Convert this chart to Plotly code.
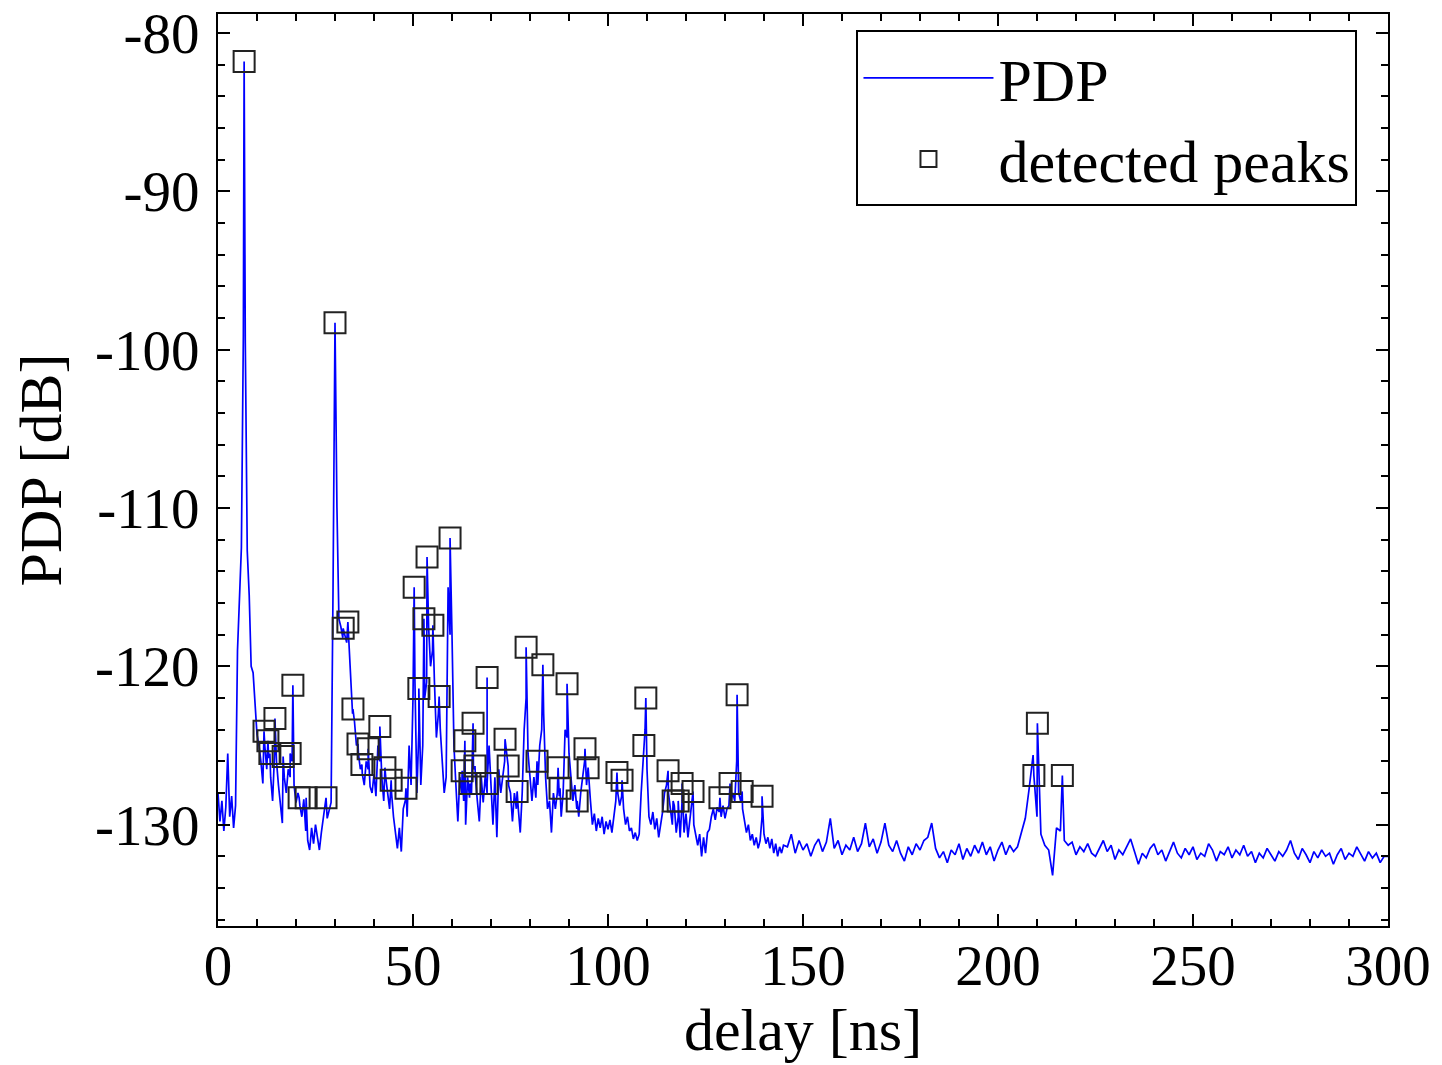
import numpy as np
import plotly.graph_objects as go

# PDP samples: 0 .. 145 ns every 0.5 ns
pdp_early_db = [
    # 0 - 9.5 ns
    -128.0, -129.8, -128.5, -130.4, -128.9, -125.5, -129.5, -128.2, -130.2, -128.8,
    -119.0, -115.0, -112.5, -99.1, -99.6, -112.7, -115.5, -120.0, -120.4, -122.5,
    # 10 - 19.5 ns
    -124.3, -125.0, -126.0, -127.4, -125.0, -126.5, -125.8, -127.0, -128.5, -125.5,
    -126.0, -127.5, -128.6, -129.9, -127.0, -128.0, -126.5, -127.0, -126.0, -127.5,
    # 20 - 29.5 ns
    -128.6, -128.0, -128.8, -129.5, -128.4, -130.4, -131.0, -131.6, -130.2, -131.2,
    -130.0, -130.8, -131.6, -130.5, -129.5, -128.8, -129.6, -129.0, -128.6, -115.0,
    # 30 - 39.5 ns
    -98.3, -110.0, -117.0, -117.5, -118.2, -118.0, -118.5, -118.3, -120.0, -123.0,
    -123.5, -125.0, -125.5, -126.5, -126.8, -127.5, -126.0, -126.5, -127.6, -128.0,
    # 40 - 49.5 ns
    -126.8, -128.2, -125.0, -126.0, -127.0, -128.5, -127.0, -128.0, -129.0, -128.0,
    -129.5, -130.5, -131.5, -130.2, -131.7, -129.0, -128.5, -129.5, -125.0, -127.5,
    # 50 - 59.5 ns
    -122.0, -121.0, -128.0, -124.0, -127.5, -125.0, -122.0, -121.0, -117.5, -120.0,
    -119.0, -121.0, -124.5, -123.0, -124.0, -126.0, -128.0, -127.0, -115.0, -118.0,
    # 60 - 69.5 ns
    -118.0, -125.0, -127.5, -129.8, -127.0, -128.0, -128.5, -130.0, -127.0, -128.3,
    -128.0, -126.5, -127.0, -128.5, -129.8, -127.0, -128.6, -127.0, -128.0, -125.0,
    # 70 - 79.5 ns
    -128.0, -130.0, -127.0, -130.8, -126.5, -128.0, -127.0, -126.0, -125.5, -127.5,
    -128.0, -129.8, -128.0, -129.0, -129.0, -130.5, -128.0, -124.0, -122.0, -125.5,
    # 80 - 89.5 ns
    -127.0, -128.5, -127.0, -128.3, -127.5, -125.0, -124.0, -123.0, -127.0, -129.0,
    -128.5, -130.5, -128.0, -129.0, -128.0, -128.2, -129.5, -128.0, -124.0, -124.5,
    # 90 - 99.5 ns
    -125.5, -127.0, -128.5, -127.5, -129.0, -129.5, -128.0, -127.0, -126.0, -127.5,
    -126.8, -128.5, -130.0, -129.3, -130.4, -129.6, -130.2, -129.5, -130.6, -129.8,
    # 100 - 109.5 ns
    -130.3, -129.7, -130.5, -129.4, -128.5, -128.0, -128.8, -128.2, -129.0, -130.0,
    -129.5, -130.4, -130.2, -130.9, -130.5, -131.0, -130.6, -128.0, -126.0, -124.0,
    # 110 - 119.5 ns
    -126.5, -129.5, -130.0, -129.2, -130.3, -129.6, -130.8, -130.0, -129.2, -128.0,
    -127.5, -128.0, -129.0, -130.0, -128.8, -130.5, -129.5, -130.8, -128.5, -130.5,
    # 120 - 129.5 ns
    -129.3, -130.8, -129.5, -128.5, -130.0, -130.7, -131.3, -130.6, -132.0, -130.8,
    -131.8, -130.5, -130.3, -129.5, -129.0, -129.7, -128.9, -129.2, -129.5, -128.8,
    # 130 - 139.5 ns
    -129.6, -129.0, -128.8, -128.5, -128.0, -128.5, -126.0, -128.0, -128.5, -129.0,
    -129.8, -130.5, -130.0, -131.0, -130.6, -131.3, -130.8, -131.5, -131.0, -129.5,
    # 140 - 145 ns
    -130.6, -131.2, -130.8, -131.5, -130.9, -131.8, -131.2, -132.0, -131.4, -131.8,
    -131.3,
]

# PDP samples, 146 .. 300 ns every 1 ns
pdp_late_db = [
    -131.4, -130.6, -131.8, -131.0, -131.6, -131.2, -132.0, -131.3, -130.9, -131.7,
    -131.1, -129.6, -131.5, -131.0, -131.9, -131.3, -131.6, -130.8, -131.7, -131.2,
    -129.9, -131.4, -130.9, -131.8, -131.1, -129.9, -131.3, -131.7, -131.0, -131.8,
    -132.3, -131.4, -131.9, -131.2, -131.6, -131.0, -130.8, -129.9, -131.5, -132.1,
    -131.7, -132.4, -131.6, -131.9, -131.2, -132.2, -131.5, -132.0, -131.3, -131.8,
    -131.1, -131.9, -131.4, -132.3, -131.6, -131.1, -131.9, -131.3, -131.7, -131.4,
    -130.5, -129.6, -127.7, -125.6, -129.5, -130.6, -131.3, -131.6, -133.2, -130.2,
    -130.4, -131.0, -131.3, -131.1, -131.9, -131.4, -131.7, -131.2, -131.8, -132.0,
    -131.5, -131.0, -131.7, -131.3, -132.2, -131.6, -131.9, -131.4, -130.9, -131.7,
    -132.5, -131.8, -132.1, -131.5, -131.2, -131.9, -131.6, -132.3, -131.7, -131.1,
    -131.8, -132.1, -131.5, -131.9, -131.4, -132.2, -131.8, -132.0, -131.2, -131.6,
    -132.3, -131.7, -131.9, -131.4, -132.1, -131.6, -131.9, -131.3, -132.0, -131.7,
    -132.4, -131.8, -132.1, -131.5, -131.9, -132.3, -131.7, -132.0, -131.6, -131.0,
    -131.8, -132.2, -131.5, -131.9, -132.4, -131.7, -132.1, -131.6, -132.0, -131.8,
    -132.5, -131.9, -131.5, -132.2, -131.8, -132.0, -131.4, -131.9, -132.3, -131.7,
    -132.1, -131.8, -132.4, -132.0, -132.0,
]

# detected peaks
peak_delay_ns = [
    6.7, 30.0, 32.1, 33.3, 50.3, 51.5, 52.8, 53.6, 55.1, 56.7, 59.5,
    11.8, 12.8, 13.3, 14.6, 16.7, 18.5, 19.2, 20.8, 22.6, 27.7,
    34.6, 35.9, 36.9, 38.5, 41.5, 42.8, 44.4, 48.2,
    62.6, 63.3, 64.6, 65.4, 65.9, 69.0, 69.0, 73.6, 74.4, 76.7,
    79.0, 81.8, 83.3, 87.2, 87.7, 89.5, 92.1, 94.1, 94.9,
    102.3, 103.6, 109.2, 109.7, 115.4, 116.7, 118.0, 119.0, 121.8,
    128.7, 131.3, 133.1, 134.4, 139.5,
    209.2, 210.1, 216.5,
]
peak_db = [
    -81.8, -98.3, -117.6, -117.2, -115.0, -121.4, -117.0, -113.1, -117.4, -121.9, -111.9,
    -124.1, -124.7, -125.5, -123.3, -125.7, -125.5, -121.2, -128.3, -128.3, -128.3,
    -122.7, -124.9, -126.2, -125.2, -123.8, -126.4, -127.2, -127.7,
    -126.6, -124.7, -127.4, -123.6, -126.3, -120.7, -127.4, -124.6, -126.3, -127.9,
    -118.8, -126.0, -119.9, -126.4, -127.7, -121.1, -128.5, -125.2, -126.4,
    -126.7, -127.2, -125.0, -122.0, -126.6, -128.5, -128.5, -127.4, -127.9,
    -128.3, -127.4, -121.8, -127.9, -128.2,
    -126.9, -123.6, -126.9,
]

x_ticks = [0, 50, 100, 150, 200, 250, 300]
x_ticktext = ["0", "50", "100", "150", "200", "250", "300"]
y_ticks = [-80, -90, -100, -110, -120, -130]
y_ticktext = ["-80", "-90", "-100", "-110", "-120", "-130"]

# sample grid + detected peaks (they lie on the PDP)
grid_delay = np.concatenate([np.arange(len(pdp_early_db)) * 0.5,
                             146 + np.arange(len(pdp_late_db))])
all_delay = np.concatenate([grid_delay, peak_delay_ns])
all_db = np.concatenate([pdp_early_db, pdp_late_db, peak_db])
order = np.argsort(all_delay, kind="stable")

font = "Liberation Serif, Times New Roman, serif"

fig = go.Figure()
fig.add_trace(go.Scatter(x=all_delay[order], y=all_db[order], mode="lines", name="PDP",
                         line=dict(color="#0000ff", width=1.7)))
fig.add_trace(go.Scatter(x=peak_delay_ns, y=peak_db, mode="markers", name="detected peaks",
                         marker=dict(symbol="square-open", size=21, color="#222222",
                                     line=dict(width=2))))

axis_common = dict(showline=True, linecolor="black", linewidth=2, mirror="allticks",
                   ticks="inside", ticklen=12, tickwidth=2, tickcolor="black",
                   showgrid=False, zeroline=False, automargin=False,
                   ticklabeloverflow="allow",
                   tickfont=dict(family=font, size=57, color="black"))

fig.update_xaxes(range=[0, 300], tickvals=x_ticks, ticktext=x_ticktext,
                 ticklabelstandoff=-11,
                 minor=dict(ticks="inside", ticklen=7, tickwidth=2, dtick=10, tickcolor="black"),
                 title=dict(text="delay [ns]", font=dict(family=font, size=60, color="black"),
                            standoff=10),
                 **axis_common)
fig.update_yaxes(range=[-136.4, -78.8], tickvals=y_ticks, ticktext=y_ticktext,
                 ticklabelstandoff=5,
                 minor=dict(ticks="inside", ticklen=7, tickwidth=2, dtick=2, tickcolor="black"),
                 title=dict(text="PDP [dB]", font=dict(family=font, size=60, color="black"),
                            standoff=20),
                 **axis_common)

fig.update_layout(
    width=1442, height=1065,
    margin=dict(l=210, r=62, t=6, b=147),
    paper_bgcolor="white", plot_bgcolor="white",
    showlegend=True,
    legend=dict(x=0.5457, y=0.982, xanchor="left", yanchor="top",
                bgcolor="white", bordercolor="black", borderwidth=2,
                font=dict(family=font, size=60, color="black"),
                itemwidth=130, tracegroupgap=0),
)

fig.write_html("out.html")
